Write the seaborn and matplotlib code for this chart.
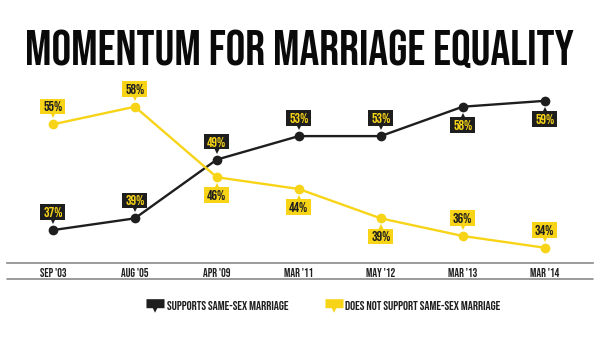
import matplotlib
matplotlib.use("Agg")
import matplotlib.pyplot as plt
import matplotlib.transforms as mtransforms
from matplotlib.lines import Line2D
from matplotlib.path import Path
import pandas as pd
import seaborn as sns

# Survey dates and shares (percent)
dates = ["SEP '03", "AUG '05", "APR '09", "MAR '11", "MAY '12", "MAR '13", "MAR '14"]
supports = [37, 39, 49, 53, 53, 58, 59]
opposes = [55, 58, 46, 44, 39, 36, 34]
series_names = ["SUPPORTS SAME-SEX MARRIAGE", "DOES NOT SUPPORT SAME-SEX MARRIAGE"]

# Callout side for each label: +1 above the point, -1 below
supports_side = [1, 1, 1, 1, 1, -1, -1]
opposes_side = [1, 1, -1, -1, -1, 1, 1]

BLACK = "#1e1e1e"
YELLOW = "#f7d417"
FONT = ["Bebas Neue", "DejaVu Sans"]

sns.set_theme(style="white")
plt.rcParams["font.family"] = FONT

df = pd.DataFrame({
    "x": list(range(len(dates))) * 2,
    "value": supports + opposes,
    "series": [series_names[0]] * len(dates) + [series_names[1]] * len(dates),
})

fig = plt.figure(figsize=(5.99, 3.39), dpi=100)
ax = fig.add_axes([7 / 599, 1 - 263 / 339, 586 / 599, 188 / 339])

sns.lineplot(data=df, x="x", y="value", hue="series",
             palette=[BLACK, YELLOW], marker="o", markersize=7,
             markeredgewidth=0, linewidth=1.7, legend=False, ax=ax)

ax.set_xlim(-0.56, 6.59)
ax.set_ylim(31.4, 63.4)
ax.set_yticks([])
ax.set_xticks(range(len(dates)))
ax.set_xticklabels(dates, fontsize=8.5, color=BLACK)
ax.tick_params(axis="x", length=0, pad=3.5)
ax.set_xlabel("")
ax.set_ylabel("")
for s in ["top", "left", "right"]:
    ax.spines[s].set_visible(False)
ax.spines["bottom"].set_color("#8a8a8a")
ax.spines["bottom"].set_linewidth(1.2)
# second rule under the date labels
ax.plot([0, 1], [-16 / 188, -16 / 188], transform=ax.transAxes,
        color="#8a8a8a", lw=1.2, clip_on=False)


def callouts(values, sides, box_color, text_color):
    for i, (v, side) in enumerate(zip(values, sides)):
        dy = 18 * side  # pixels
        off = mtransforms.ScaledTranslation(0, dy / 100, fig.dpi_scale_trans)
        ax.text(i, v, f"{v}%", transform=ax.transData + off,
                ha="center", va="center_baseline", fontsize=10,
                color=text_color, zorder=5,
                bbox=dict(boxstyle="square,pad=0.2", fc=box_color, ec="none"))
        tri = mtransforms.ScaledTranslation(0, (dy - 9 * side) / 100,
                                            fig.dpi_scale_trans)
        ax.plot([i], [v], marker="v" if side > 0 else "^", markersize=5,
                color=box_color, markeredgewidth=0,
                transform=ax.transData + tri, zorder=4, clip_on=False)


callouts(supports, supports_side, BLACK, YELLOW)
callouts(opposes, opposes_side, YELLOW, BLACK)

fig.text(0.5, 1 - 47 / 339, "MOMENTUM FOR MARRIAGE EQUALITY",
         ha="center", va="center_baseline", fontsize=35.5, color="#0a0a0a")

# speech-bubble legend icon
bubble = Path([(-1.0, -0.3), (1.0, -0.3), (1.0, 0.7), (-1.0, 0.7), (-1.0, -0.3),
               (-0.3, -0.3), (-0.05, -0.8), (0.2, -0.3), (-0.3, -0.3)],
              [Path.MOVETO, Path.LINETO, Path.LINETO, Path.LINETO, Path.CLOSEPOLY,
               Path.MOVETO, Path.LINETO, Path.LINETO, Path.CLOSEPOLY])
handles = [Line2D([], [], ls="none", marker=bubble, markersize=13, color=BLACK,
                  markeredgewidth=0),
           Line2D([], [], ls="none", marker=bubble, markersize=13, color=YELLOW,
                  markeredgewidth=0)]
fig.legend(handles, series_names,
           loc="center", bbox_to_anchor=(324.5 / 599, 1 - 305 / 339), ncol=2,
           frameon=False, prop=dict(family=FONT, size=9.2), handletextpad=0.35,
           columnspacing=3.0, handlelength=1.1, labelcolor=BLACK)

fig.savefig("out.png", dpi=100, facecolor="white")
